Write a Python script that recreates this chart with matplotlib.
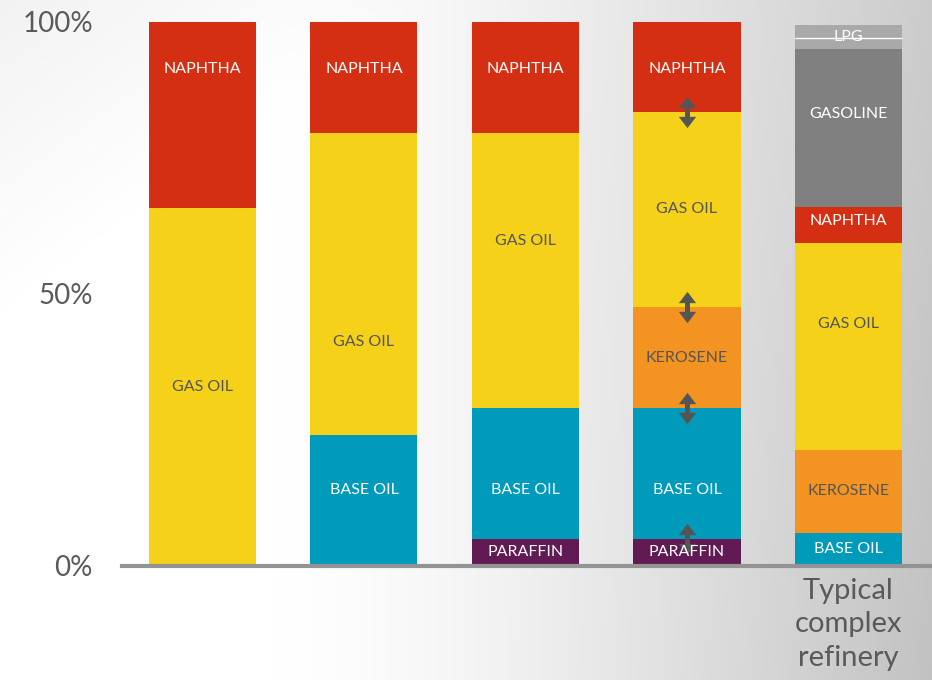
import numpy as np
import matplotlib
matplotlib.use("Agg")
import matplotlib.pyplot as plt

plt.rcParams['font.family'] = ['Lato', 'DejaVu Sans']

# data: share of each product per refinery configuration (%), bottom to top
bars = ['bar1', 'bar2', 'bar3', 'bar4', 'Typical\ncomplex\nrefinery']
paraffin = [0, 0, 5.0, 5.0, 0]
base_oil = [0, 24.1, 24.0, 24.0, 6.1]
kerosene = [0, 0, 0, 18.6, 15.2]
gas_oil = [65.8, 55.5, 50.6, 35.9, 38.1]
naphtha = [34.2, 20.4, 20.4, 16.5, 6.6]
gasoline = [0, 0, 0, 0, 29.0]
lpg = [0, 0, 0, 0, 2.0]
fuel_gas = [0, 0, 0, 0, 2.4]

series = [
    ('PARAFFIN', paraffin, '#621A55', 'white'),
    ('BASE OIL', base_oil, '#009ABB', 'white'),
    ('KEROSENE', kerosene, '#F39322', '#555555'),
    ('GAS OIL', gas_oil, '#F5D11A', '#555555'),
    ('NAPHTHA', naphtha, '#D52F13', 'white'),
    ('GASOLINE', gasoline, '#808080', 'white'),
    ('LPG', lpg, '#A9A9A9', 'white'),
    ('', fuel_gas, '#A9A9A9', 'white'),
]

# label heights that are not at the segment centre (bar index, name) -> %
label_pos = {
    (0, 'NAPHTHA'): 91.4, (1, 'NAPHTHA'): 91.4, (2, 'NAPHTHA'): 91.4, (3, 'NAPHTHA'): 91.4,
    (1, 'GAS OIL'): 41.2, (2, 'GAS OIL'): 59.7, (4, 'GAS OIL'): 44.5,
    (1, 'BASE OIL'): 14.0, (2, 'BASE OIL'): 14.0, (3, 'BASE OIL'): 14.0,
    (4, 'GASOLINE'): 83.1, (4, 'NAPHTHA'): 63.4, (4, 'LPG'): 97.2,
}
arrow_bar = 3  # bar with the movable boundaries

fig = plt.figure(figsize=(9.32, 6.8), dpi=100)

# background gradient
bg = fig.add_axes([0, 0, 1, 1], zorder=0)
xx, yy = np.meshgrid(np.linspace(0, 1, 400), np.linspace(0, 1, 300))
shade = 1 - 0.2 * np.clip((xx - 0.3) / 0.7, 0, 1) ** 1.3
shade -= 0.05 * np.clip(1 - (xx + yy) / 0.45, 0, 1)
shade -= 0.04 * np.clip((xx - 0.5) / 0.5, 0, 1) * yy
bg.imshow(np.dstack([shade] * 3), aspect='auto', extent=[0, 1, 0, 1], origin='upper')
bg.axis('off')

ax = fig.add_axes([122 / 932, 1 - 566 / 680, 1 - 122 / 932, 544 / 680], zorder=1)
ax.patch.set_alpha(0)

x = np.arange(len(bars))
width = 0.663
bottom = np.zeros(len(bars))
for name, vals, color, tcolor in series:
    vals = np.array(vals, dtype=float)
    ax.bar(x, vals, width, bottom=bottom, color=color, linewidth=0)
    for i, v in enumerate(vals):
        if v > 0 and name:
            ypos = label_pos.get((i, name), bottom[i] + v / 2)
            ax.text(x[i], ypos, name, ha='center', va='center', color=tcolor,
                    fontsize=11.5, zorder=4)
    bottom = bottom + vals

# thin white divider between the two light-grey gas segments
split = np.array(paraffin) + base_oil + kerosene + gas_oil + naphtha + gasoline + lpg
for i in range(len(bars)):
    if fuel_gas[i] > 0:
        ax.hlines(split[i], x[i] - width / 2, x[i] + width / 2, color='white', lw=1)

# double arrows on the boundaries of the fourth bar
up = [(-1, -0.65), (1, -0.65), (0, 0.65), (-1, -0.65)]
down = [(vx, -vy) for vx, vy in up]
stack = np.cumsum([s[1][arrow_bar] for s in series])
for b in np.unique(np.round(stack, 3)):
    if 0 < b < 99:
        ax.plot([x[arrow_bar]] * 2, [b - 1.8, b + 1.8], color='#555555', lw=3.6,
                solid_capstyle='butt', zorder=3)
        ax.plot(x[arrow_bar], b + 1.85, marker=up, ms=12.5, color='#555555', mew=0, zorder=3)
        ax.plot(x[arrow_bar], b - 1.85, marker=down, ms=12.5, color='#555555', mew=0, zorder=3)

ax.set_xlim(-0.498, 4.517)
ax.set_ylim(0, 100)
ax.set_yticks([0, 50, 100])
ax.set_yticklabels(['0%', '50%', '100%'], fontsize=20, color='#5a5a5a')
ax.tick_params(axis='y', length=0, pad=21)
ax.set_xticks([])
for s in ['top', 'right', 'left']:
    ax.spines[s].set_visible(False)
ax.spines['bottom'].set_color('#939393')
ax.spines['bottom'].set_linewidth(3)

ax.text(x[-1], -2.2, bars[-1], ha='center', va='top', fontsize=21,
        color='#5a5a5a', linespacing=1.35)

fig.savefig('out.png', dpi=100)
